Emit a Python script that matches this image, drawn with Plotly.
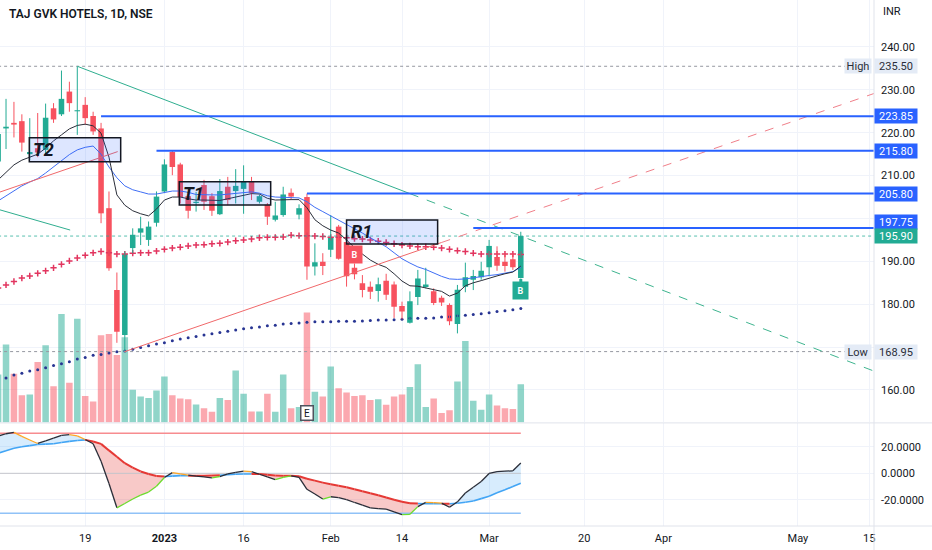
import plotly.graph_objects as go

# ---------------- data ----------------
bar_index = list(range(-1, 66))

opens = [213.3, 221.0, 222.3, 222.7, 215.0, 216.4, 216.0, 225.7, 224.3, 229.6,
         225.0, 226.5, 223.9, 221.0, 202.4, 183.3, 172.8, 193.1, 196.7, 195.0,
         199.0, 206.3, 215.5, 212.6, 205.2, 203.6, 207.8, 205.2, 201.0, 207.4,
         206.4, 206.9, 208.6, 203.9, 203.2, 199.7, 200.8, 206.0, 200.9, 205.0,
         188.8, 189.9, 192.7, 198.1, 194.5, 188.5, 184.9, 184.1, 183.1, 185.5,
         184.6, 179.6, 175.7, 181.7, 184.0, 183.0, 181.5, 179.8, 175.4, 184.1,
         185.7, 186.3, 188.6, 191.0, 189.9, 190.5, 186.1]
highs = [221.0, 227.9, 227.2, 224.3, 223.4, 224.6, 226.8, 226.9, 234.5, 231.9,
         235.5, 228.3, 224.9, 222.3, 206.3, 187.4, 192.3, 197.7, 200.4, 199.3,
         206.3, 213.8, 215.8, 213.0, 205.9, 206.2, 209.0, 205.9, 209.2, 209.7,
         211.5, 212.4, 209.7, 205.6, 203.6, 203.9, 207.4, 207.0, 203.3, 205.8,
         194.2, 191.9, 200.8, 198.5, 195.5, 189.5, 186.8, 185.3, 186.2, 187.1,
         185.3, 180.6, 183.0, 188.0, 188.5, 183.7, 182.0, 180.2, 184.5, 189.7,
         188.0, 189.9, 195.0, 193.5, 191.9, 191.9, 196.9]
lows = [212.0, 216.2, 218.9, 215.6, 213.6, 214.3, 214.8, 222.3, 223.9, 224.9,
        219.5, 221.8, 219.5, 198.9, 187.8, 171.0, 168.95, 191.9, 193.8, 193.6,
        198.1, 205.9, 210.1, 203.5, 200.0, 201.6, 202.0, 200.6, 200.8, 203.1,
        203.5, 201.1, 204.3, 203.5, 198.5, 199.3, 200.4, 204.3, 199.8, 185.7,
        186.7, 186.8, 191.0, 190.4, 184.1, 185.8, 181.6, 181.2, 180.6, 181.0,
        176.8, 176.5, 175.5, 179.8, 183.7, 179.8, 179.6, 175.1, 173.2, 182.8,
        183.3, 185.7, 186.5, 187.8, 187.6, 188.0, 186.0]
closes = [219.7, 221.4, 221.9, 217.7, 215.5, 215.4, 223.5, 223.1, 227.9, 226.9,
          225.2, 223.4, 220.3, 201.2, 188.4, 173.6, 191.7, 196.2, 197.7, 198.1,
          205.1, 212.6, 212.0, 205.0, 201.8, 203.9, 203.9, 201.8, 206.4, 204.3,
          207.6, 208.6, 205.9, 205.2, 200.4, 200.7, 205.6, 205.1, 202.4, 188.8,
          189.8, 188.9, 195.6, 190.6, 186.5, 187.0, 183.3, 182.9, 184.65, 182.2,
          179.4, 178.3, 180.7, 186.0, 184.6, 180.3, 180.4, 176.0, 183.4, 186.3,
          186.6, 187.8, 193.6, 189.0, 188.9, 188.6, 195.9]
volume_k = [479, 778, 486, 272, 279, 603, 771, 362, 1085, 396,
            1037, 265, 210, 871, 885, 675, 851, 327, 258, 244,
            320, 458, 272, 238, 231, 179, 141, 107, 244, 224,
            520, 286, 110, 110, 286, 107, 479, 141, 155, 1098,
            306, 258, 558, 341, 300, 265, 272, 224, 231, 176,
            258, 279, 355, 582, 155, 238, 93, 121, 410, 813,
            217, 127, 279, 169, 141, 134, 382]
ma_fast = [209.0, 210.8, 212.5, 213.6, 214.3, 215.0, 216.4, 218.1, 219.5, 220.9,
           221.7, 222.0, 221.6, 219.9, 214.3, 205.5, 203.1, 201.8, 201.1, 200.6,
           202.2, 204.3, 205.0, 205.0, 204.6, 204.3, 204.3, 204.2, 204.2, 204.6,
           205.0, 205.5, 205.8, 205.7, 204.7, 204.3, 204.4, 204.4, 204.4, 202.5,
           199.7, 198.3, 197.3, 196.6, 195.0, 193.2, 191.7, 190.3, 189.3, 188.6,
           187.1, 185.4, 184.3, 184.2, 183.8, 183.4, 183.0, 181.9, 182.6, 184.3,
           185.0, 185.5, 186.1, 186.6, 187.1, 187.5, 188.9]
ma_slow = [204.1, 205.3, 206.4, 207.6, 208.5, 209.3, 210.6, 212.0, 213.4, 214.9,
           216.0, 216.6, 216.9, 215.0, 212.0, 209.5, 207.6, 206.7, 206.2, 205.7,
           205.7, 206.1, 206.4, 206.4, 206.1, 205.6, 205.5, 205.5, 205.5, 205.7,
           205.9, 206.1, 206.2, 205.9, 205.3, 205.0, 204.9, 204.9, 204.8, 203.9,
           202.6, 201.6, 200.6, 199.7, 198.7, 197.7, 196.6, 195.5, 194.5, 193.4,
           192.0, 190.6, 189.6, 188.7, 188.1, 187.3, 186.5, 185.9, 185.8, 185.9,
           186.2, 186.5, 186.7, 186.9, 187.2, 187.6, 188.6]
ma_cross = [183.8, 184.5, 185.3, 186.1, 186.6, 187.2, 187.8, 188.5, 189.3, 190.1,
            190.8, 191.4, 192.0, 192.3, 192.0, 191.7, 191.7, 191.9, 192.0, 192.0,
            192.4, 192.8, 193.1, 193.3, 193.6, 193.8, 193.9, 194.1, 194.2, 194.5,
            194.8, 195.0, 195.2, 195.5, 195.6, 195.6, 195.7, 196.1, 196.0, 196.0,
            195.9, 195.8, 195.6, 195.6, 195.5, 195.3, 195.2, 195.0, 194.7, 194.4,
            194.1, 193.8, 193.6, 193.4, 193.4, 193.3, 193.1, 192.8, 192.5, 192.3,
            191.9, 191.7, 191.7, 191.7, 191.7, 191.7, 191.6]
ma_long = [162.2, 162.8, 163.5, 163.9, 164.4, 164.7, 165.2, 165.7, 166.1, 166.6,
           167.2, 167.6, 168.1, 168.3, 168.6, 168.9, 169.1, 169.5, 169.9, 170.3,
           170.7, 171.0, 171.5, 171.9, 172.2, 172.5, 172.8, 173.1, 173.4, 173.7,
           174.0, 174.3, 174.5, 174.7, 175.0, 175.1, 175.4, 175.5, 175.6, 175.8,
           175.9, 175.9, 175.9, 176.0, 176.0, 176.0, 176.1, 176.2, 176.3, 176.3,
           176.4, 176.5, 176.7, 176.7, 176.7, 176.8, 177.0, 177.1, 177.3, 177.4,
           177.6, 177.8, 178.0, 178.3, 178.5, 178.7, 179.0]
wt1 = [28.0, 29.7, 30.7, 27.7, 25.0, 22.4, 24.3, 26.4, 28.5, 29.0,
       28.1, 25.4, 22.2, 9.0, -7.6, -25.9, -22.7, -19.3, -16.4, -14.1,
       -9.7, -3.1, 0.5, -0.5, -1.3, -2.1, -2.7, -3.4, -2.4, -0.5,
       0.7, 1.7, 1.2, -0.7, -2.7, -4.8, -3.0, -1.9, -3.1, -12.0,
       -15.5, -19.3, -17.6, -18.2, -19.8, -21.9, -23.9, -25.9, -26.5, -26.9,
       -28.9, -31.0, -30.8, -25.0, -21.8, -22.0, -22.4, -25.5, -21.4, -14.8,
       -10.4, -6.1, -0.1, 1.3, 1.6, 1.9, 7.7]
wt2 = [15.1, 17.0, 18.8, 20.0, 20.8, 21.6, 21.9, 22.2, 23.1, 24.0,
       24.6, 25.1, 23.9, 22.1, 17.2, 12.5, 7.6, 4.2, 1.4, -0.5,
       -2.0, -2.4, -2.1, -1.7, -1.8, -1.8, -1.9, -1.7, -1.4, -1.0,
       -0.7, -0.5, -0.5, -0.5, -1.0, -1.7, -1.8, -1.8, -2.2, -4.1,
       -5.5, -7.0, -8.2, -9.3, -10.5, -12.0, -13.4, -14.9, -16.5, -18.1,
       -19.8, -21.4, -22.4, -22.7, -22.8, -22.8, -22.8, -22.8, -22.5, -21.7,
       -20.8, -19.0, -17.2, -14.6, -12.4, -9.9, -7.5]
osc_levels = [30, 0, -30]

tick_pos = [10, 20, 30, 41, 50, 61, 73, 83, 100, 109]
tick_lab = ["19", "<b>2023</b>", "16", "Feb", "14", "Mar", "20", "Apr", "May", "15"]
price_ticks = [160, 170, 180, 190, 200, 210, 220, 230, 240]
price_tick_text = ["160.00", "", "180.00", "190.00", "", "210.00", "220.00", "230.00", "240.00"]

level_prices = [223.85, 215.80, 205.80, 197.75]
level_starts = [12, 19, 38, 59]
day_high = 235.50
day_low = 168.95
last_close = 195.90

# trend-line drawings (bar index, price)
teal_solid_x = [9, 51]
teal_solid_y = [235.5, 205.8]
teal_dash_x = [51, 109.6]
teal_dash_y = [205.8, 164.4]
red_solid_x = [15, 55]
red_solid_y = [168.95, 194.4]
red_dash_x = [55, 109.6]
red_dash_y = [194.4, 229.15]
old_red_x = [-1.5, 14.1]
old_red_y = [205.7, 215.6]
old_teal_x = [-1.5, 8.1]
old_teal_y = [202.4, 197.3]

box_names = ["T2", "T1", "R1"]
box_x0 = [2.94, 21.88, 43.0]
box_x1 = [14.48, 33.42, 54.5]
box_y0 = [213.25, 203.15, 194.05]
box_y1 = [218.85, 208.58, 199.65]

# ---------------- figure ----------------
GREEN = "#22ab94"
RED = "#f7525f"
BLUE = "#2962ff"
FONT = "Roboto, sans-serif"

fig = go.Figure()

# volume (base axis y, hidden)
vol_colors = ["rgba(34,171,148,0.5)" if c >= o else "rgba(247,82,95,0.5)"
              for o, c in zip(opens, closes)]
fig.add_trace(go.Bar(x=bar_index, y=volume_k, width=0.82,
                     marker=dict(color=vol_colors, line_width=0),
                     xaxis="x", yaxis="y", hoverinfo="skip"))

# long MA (navy dots) and cross MA
fig.add_trace(go.Scatter(x=bar_index, y=ma_long, mode="markers", yaxis="y3",
                         marker=dict(symbol="circle", size=3, color="#283593"),
                         hoverinfo="skip"))
fig.add_trace(go.Scatter(x=bar_index, y=ma_cross, mode="markers", yaxis="y3",
                         marker=dict(symbol="cross-thin", size=4.5,
                                     line=dict(color="#e2355f", width=1.5)),
                         hoverinfo="skip"))

# candle wicks
for up, col in [(True, GREEN), (False, RED)]:
    wx, wy = [], []
    for i, o, h, l, c in zip(bar_index, opens, highs, lows, closes):
        if (c >= o) == up:
            wx += [i, i, None]
            wy += [l, h, None]
    fig.add_trace(go.Scatter(x=wx, y=wy, mode="lines", yaxis="y3",
                             line=dict(color=col, width=1), hoverinfo="skip"))
# candle bodies
body_base = [min(o, c) for o, c in zip(opens, closes)]
body_h = [max(abs(c - o), 0.25) for o, c in zip(opens, closes)]
body_col = [GREEN if c >= o else RED for o, c in zip(opens, closes)]
fig.add_trace(go.Bar(x=bar_index, y=body_h, base=body_base, width=0.7, yaxis="y3",
                     marker=dict(color=body_col, line_width=0), hoverinfo="skip"))

# moving averages
fig.add_trace(go.Scatter(x=bar_index, y=ma_slow, mode="lines", yaxis="y3",
                         line=dict(color="#3f6ef5", width=1), hoverinfo="skip"))
fig.add_trace(go.Scatter(x=bar_index, y=ma_fast, mode="lines", yaxis="y3",
                         line=dict(color="#2a2e39", width=1), hoverinfo="skip"))

# dotted high / low / last lines
for val, col in [(day_high, "#9598a1"), (day_low, "#9598a1"), (last_close, "rgba(34,171,148,0.75)")]:
    fig.add_trace(go.Scatter(x=[-1, 112], y=[val, val], mode="lines", yaxis="y3",
                             line=dict(color=col, width=1, dash="dot"), hoverinfo="skip"))

# trend lines
for xs, ys, col, dash in [(old_red_x, old_red_y, "#f0686a", "solid"),
                          (old_teal_x, old_teal_y, "#2fae8f", "solid"),
                          (teal_solid_x, teal_solid_y, "#2fae8f", "solid"),
                          (teal_dash_x, teal_dash_y, "#3fb48f", "dash"),
                          (red_solid_x, red_solid_y, "#f0686a", "solid"),
                          (red_dash_x, red_dash_y, "#f0808a", "dash")]:
    fig.add_trace(go.Scatter(x=xs, y=ys, mode="lines", yaxis="y3",
                             line=dict(color=col, width=1, dash=dash), hoverinfo="skip"))

# horizontal level lines
for p, s in zip(level_prices, level_starts):
    fig.add_trace(go.Scatter(x=[s, 112], y=[p, p], mode="lines", yaxis="y3",
                             line=dict(color=BLUE, width=2), hoverinfo="skip"))

# ---------------- oscillator pane ----------------
n = len(bar_index)
regions = []
cur = None
for k in range(n):
    d = wt1[k] - wt2[k]
    s = d >= 0
    if cur is None:
        cur = [s, [bar_index[k]], [wt1[k]], [bar_index[k]], [wt2[k]]]
    elif s != cur[0]:
        d0 = wt1[k - 1] - wt2[k - 1]
        t = d0 / (d0 - d)
        xc = bar_index[k - 1] + t * (bar_index[k] - bar_index[k - 1])
        yc = wt1[k - 1] + t * (wt1[k] - wt1[k - 1])
        cur[1].append(xc); cur[2].append(yc); cur[3].append(xc); cur[4].append(yc)
        regions.append(cur)
        cur = [s, [xc, bar_index[k]], [yc, wt1[k]], [xc, bar_index[k]], [yc, wt2[k]]]
    else:
        cur[1].append(bar_index[k]); cur[2].append(wt1[k])
        cur[3].append(bar_index[k]); cur[4].append(wt2[k])
regions.append(cur)
for s, x1, y1, x2, y2 in regions:
    fig.add_trace(go.Scatter(x=x1 + x2[::-1], y=y1 + y2[::-1], mode="lines", fill="toself",
                             fillcolor="rgba(33,150,243,0.18)" if s else "rgba(229,57,53,0.27)",
                             line=dict(width=0), yaxis="y2", hoverinfo="skip"))

for lv, col, w in zip(osc_levels, ["#f78c8f", "#c4c6cc", "#90c2f7"], [1.5, 1, 1.5]):
    fig.add_trace(go.Scatter(x=[bar_index[0], bar_index[-1]], y=[lv, lv], mode="lines",
                             yaxis="y2", line=dict(color=col, width=w), hoverinfo="skip"))


def seg_groups(xs, ys, cols):
    groups = {}
    for k in range(len(xs) - 1):
        gx, gy = groups.setdefault(cols[k], ([], []))
        gx += [xs[k], xs[k + 1], None]
        gy += [ys[k], ys[k + 1], None]
    return groups


wt2_cols, wt1_cols = [], []
for k in range(1, n):
    bull = wt1[k] >= wt2[k]
    rising = wt1[k] >= wt1[k - 1]
    wt2_cols.append("#42a5f5" if bull else "#e53935")
    if bull:
        wt1_cols.append("#2a2e39" if rising else "#ffa726")
    else:
        wt1_cols.append("#6ddc2e" if rising else "#2a2e39")

for col, (gx, gy) in seg_groups(bar_index, wt2, wt2_cols).items():
    fig.add_trace(go.Scatter(x=gx, y=gy, mode="lines", yaxis="y2",
                             line=dict(color=col, width=2 if col == "#e53935" else 1.6),
                             hoverinfo="skip"))
for col, (gx, gy) in seg_groups(bar_index, wt1, wt1_cols).items():
    fig.add_trace(go.Scatter(x=gx, y=gy, mode="lines", yaxis="y2",
                             line=dict(color=col, width=1.3), hoverinfo="skip"))

# ---------------- shapes & annotations ----------------
shapes = []
for x0, x1, y0, y1 in zip(box_x0, box_x1, box_y0, box_y1):
    shapes.append(dict(type="rect", xref="x", yref="y3", x0=x0, x1=x1, y0=y0, y1=y1,
                       fillcolor="rgba(41,98,255,0.16)", line=dict(color="#131722", width=1.5),
                       layer="above"))
sep = "#e0e3eb"
shapes += [
    dict(type="line", xref="paper", yref="paper", x0=0, x1=932 / 874, y0=1 - 422.9 / 526,
         y1=1 - 422.9 / 526, line=dict(color=sep, width=1)),
    dict(type="line", xref="paper", yref="paper", x0=0, x1=932 / 874, y0=0, y1=0,
         line=dict(color=sep, width=1)),
    dict(type="line", xref="paper", yref="paper", x0=1, x1=1, y0=-24 / 526, y1=1,
         line=dict(color=sep, width=1)),
]

ann = []
ann.append(dict(text="TAJ GVK HOTELS, 1D, NSE", xref="paper", yref="paper", x=7 / 874,
                y=1 - 14 / 526, xanchor="left", yanchor="middle", showarrow=False,
                font=dict(family=FONT, size=12, color="#131722", weight=600)))
ann.append(dict(text="INR", xref="paper", yref="paper", x=881 / 874, y=1 - 12 / 526,
                xanchor="left", yanchor="middle", showarrow=False,
                font=dict(family=FONT, size=11, color="#131722")))


def price_label(val, bg, fg, yshift=0):
    return dict(text=f"{val:.2f}", xref="paper", yref="y3", x=1, y=val, xanchor="left",
                yanchor="middle", showarrow=False, bgcolor=bg, width=40, height=12,
                borderpad=1, align="center", yshift=yshift,
                font=dict(family=FONT, size=11, color=fg))


for p in level_prices:
    ann.append(price_label(p, BLUE, "white", 6 if p == 197.75 else 0))
ann.append(price_label(last_close, GREEN, "white"))
ann.append(price_label(day_high, "#e4ebf6", "#2a2e39"))
ann.append(price_label(day_low, "#e4ebf6", "#2a2e39"))
for word, val in [("High", day_high), ("Low", day_low)]:
    ann.append(dict(text=word, xref="paper", yref="y3", x=872 / 874, y=val, xanchor="right",
                    yanchor="middle", showarrow=False, bgcolor="#e4ebf6", width=24, height=12,
                    borderpad=1, align="center", font=dict(family=FONT, size=11, color="#2a2e39")))

for name, x0, y0, y1 in zip(box_names, box_x0, box_y0, box_y1):
    ann.append(dict(text=f"<b><i>{name}</i></b>", xref="x", yref="y3", x=x0, y=(y0 + y1) / 2,
                    xanchor="left", yanchor="middle", xshift=2, showarrow=False,
                    font=dict(family=FONT, size=18, color="#131722")))

ann.append(dict(text="<b>B</b>", xref="x", yref="y3", x=44, y=191.7, showarrow=False,
                bgcolor=RED, width=11, height=13, borderpad=2,
                font=dict(family=FONT, size=9, color="white")))
ann.append(dict(text="<b>B</b>", xref="x", yref="y3", x=65, y=185.9, showarrow=True,
                arrowhead=0, arrowwidth=3, arrowcolor=GREEN, ax=0, ay=12, standoff=0,
                bgcolor=GREEN, width=11, height=13, borderpad=2,
                font=dict(family=FONT, size=9, color="white")))
ann.append(dict(text="E", xref="x", yref="y", x=38, y=0, yanchor="bottom", yshift=1,
                showarrow=False, bgcolor="white", bordercolor="#50535e", borderwidth=1.5,
                borderpad=1, width=9, height=11, font=dict(family=FONT, size=10, color="#131722")))

fig.update_layout(
    width=932, height=550, margin=dict(l=0, r=58, t=0, b=24),
    paper_bgcolor="white", plot_bgcolor="white", showlegend=False, barmode="overlay",
    hovermode=False, font=dict(family=FONT, size=11, color="#131722"),
    xaxis=dict(domain=[0, 1], range=[-0.76, 109.6], anchor="y2", tickmode="array",
               tickvals=tick_pos, ticktext=tick_lab, showgrid=True, gridcolor="#f0f3fa",
               zeroline=False, showline=False, ticks="", ticklabelstandoff=4,
               tickfont=dict(family=FONT, size=11, color="#131722")),
    yaxis=dict(domain=[0.197, 1], range=[0, 4224], visible=False, anchor="x"),
    yaxis3=dict(overlaying="y", side="right", anchor="x", range=[152.44, 250.96],
                tickmode="array", tickvals=price_ticks, ticktext=price_tick_text,
                showgrid=True, gridcolor="#f0f3fa", zeroline=False, ticks="",
                ticklabelstandoff=6, showline=False,
                tickfont=dict(family=FONT, size=11, color="#131722")),
    yaxis2=dict(domain=[0, 0.195], range=[-39.55, 37.45], side="right", anchor="x",
                tickmode="array", tickvals=[-20, 0, 20],
                ticktext=["-20.0000", "0.0000", "20.0000"], showgrid=True,
                gridcolor="#f0f3fa", zeroline=False, ticks="", ticklabelstandoff=6,
                tickfont=dict(family=FONT, size=11, color="#131722")),
    shapes=shapes, annotations=ann,
)

fig.write_html("out.html", config={"displayModeBar": False, "staticPlot": True},
               post_script="document.body.style.margin='0px';document.body.style.padding='0px';")
